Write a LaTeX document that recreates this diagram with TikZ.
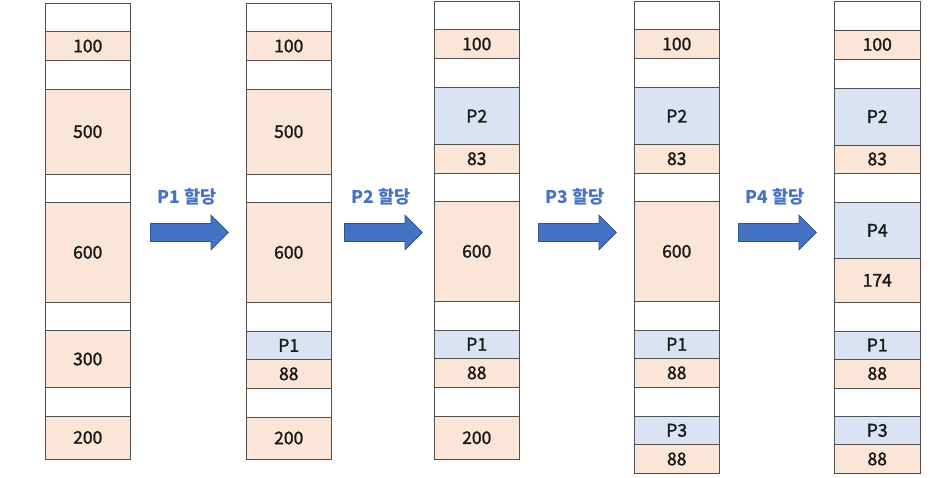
\documentclass[tikz,border=0pt]{standalone}
\usepackage{fontspec}
\setmainfont{Noto Sans CJK KR}
\newfontfamily\cellfont[FakeBold=1.6]{Noto Sans CJK KR}
\usetikzlibrary{shapes.arrows}
\definecolor{peach}{HTML}{FBE5D6}
\definecolor{lblue}{HTML}{DAE3F3}
\definecolor{abody}{HTML}{4472C4}
\definecolor{aedge}{HTML}{2F528F}
\definecolor{cedge}{HTML}{505050}
\tikzset{
  cellbase/.style={draw=cedge, line width=0.9pt, inner sep=0pt, outer sep=0pt, anchor=north west, minimum width=85.5pt, font=\cellfont\fontsize{17.5}{20}\selectfont, text=black!90},
  freecell/.style={cellbase, fill=white},
  holecell/.style={cellbase, fill=peach},
  proccell/.style={cellbase, fill=lblue},
  blockarrow/.style={single arrow, draw=aedge, fill=abody, line width=0.8pt, inner xsep=0pt, inner ysep=8.5pt, single arrow head extend=8.5pt, single arrow head indent=0pt, minimum height=78pt, single arrow tip angle=90, anchor=tail},
  steplabel/.style={text=abody, font=\fontsize{17.5}{20}\bfseries\selectfont}
}
\newcommand\mcell[6]{\node[#5, minimum height={(#4-#3)*1pt}] (#1) at (#2,#3) {#6};}
\begin{document}
\begin{tikzpicture}[x=1pt,y=-1pt]
\useasboundingbox (0,0) rectangle (950,477);
% column 1
\mcell{a1}{45}{3}{31.7}{freecell}{}
\mcell{a2}{45}{31.7}{60.3}{holecell}{100}
\mcell{a3}{45}{60.3}{89.3}{freecell}{}
\mcell{a4}{45}{89.3}{174}{holecell}{500}
\mcell{a5}{45}{174}{202.7}{freecell}{}
\mcell{a6}{45}{202.7}{302}{holecell}{600}
\mcell{a7}{45}{302}{330.7}{freecell}{}
\mcell{a8}{45}{330.7}{387.3}{holecell}{300}
\mcell{a9}{45}{387.3}{416}{freecell}{}
\mcell{a10}{45}{416}{459}{holecell}{200}
% column 2
\mcell{b1}{246}{3}{31.7}{freecell}{}
\mcell{b2}{246}{31.7}{60.3}{holecell}{100}
\mcell{b3}{246}{60.3}{89.3}{freecell}{}
\mcell{b4}{246}{89.3}{174}{holecell}{500}
\mcell{b5}{246}{174}{202.7}{freecell}{}
\mcell{b6}{246}{202.7}{302}{holecell}{600}
\mcell{b7}{246}{302}{331}{freecell}{}
\mcell{b8}{246}{331}{359.7}{proccell}{P1}
\mcell{b9}{246}{359.7}{388}{holecell}{88}
\mcell{b10}{246}{388}{417}{freecell}{}
\mcell{b11}{246}{417}{459}{holecell}{200}
% column 3
\mcell{c1}{434}{1.5}{29.5}{freecell}{}
\mcell{c2}{434}{29.5}{58.5}{holecell}{100}
\mcell{c3}{434}{58.5}{87.5}{freecell}{}
\mcell{c4}{434}{87.5}{144.5}{proccell}{P2}
\mcell{c5}{434}{144.5}{173}{holecell}{83}
\mcell{c6}{434}{173}{201.7}{freecell}{}
\mcell{c7}{434}{201.7}{301}{holecell}{600}
\mcell{c8}{434}{301}{330}{freecell}{}
\mcell{c9}{434}{330}{358.5}{proccell}{P1}
\mcell{c10}{434}{358.5}{387.3}{holecell}{88}
\mcell{c11}{434}{387.3}{416.5}{freecell}{}
\mcell{c12}{434}{416.5}{459}{holecell}{200}
% column 4
\mcell{d1}{634}{1.5}{29.5}{freecell}{}
\mcell{d2}{634}{29.5}{58.5}{holecell}{100}
\mcell{d3}{634}{58.5}{87.5}{freecell}{}
\mcell{d4}{634}{87.5}{144.5}{proccell}{P2}
\mcell{d5}{634}{144.5}{173}{holecell}{83}
\mcell{d6}{634}{173}{201.7}{freecell}{}
\mcell{d7}{634}{201.7}{301}{holecell}{600}
\mcell{d8}{634}{301}{330}{freecell}{}
\mcell{d9}{634}{330}{358.5}{proccell}{P1}
\mcell{d10}{634}{358.5}{387.3}{holecell}{88}
\mcell{d11}{634}{387.3}{416}{freecell}{}
\mcell{d12}{634}{416}{444.7}{proccell}{P3}
\mcell{d13}{634}{444.7}{473.3}{holecell}{88}
% column 5
\mcell{e1}{834.5}{1.5}{30}{freecell}{}
\mcell{e2}{834.5}{30}{59}{holecell}{100}
\mcell{e3}{834.5}{59}{88}{freecell}{}
\mcell{e4}{834.5}{88}{145}{proccell}{P2}
\mcell{e5}{834.5}{145}{173}{holecell}{83}
\mcell{e6}{834.5}{173}{202}{freecell}{}
\mcell{e7}{834.5}{202}{258.7}{proccell}{P4}
\mcell{e8}{834.5}{258.7}{302}{holecell}{174}
\mcell{e9}{834.5}{302}{331}{freecell}{}
\mcell{e10}{834.5}{331}{359}{proccell}{P1}
\mcell{e11}{834.5}{359}{388}{holecell}{88}
\mcell{e12}{834.5}{388}{416}{freecell}{}
\mcell{e13}{834.5}{416}{444.7}{proccell}{P3}
\mcell{e14}{834.5}{444.7}{473.3}{holecell}{88}
% arrows and labels
\node[blockarrow] (r1) at (150,232.5) {};
\node[blockarrow] (r2) at (344,232.5) {};
\node[blockarrow] (r3) at (538,232.5) {};
\node[blockarrow] (r4) at (738,232.5) {};
\node[steplabel] (l1) at (187,197) {P1 할당};
\node[steplabel] (l2) at (381,197) {P2 할당};
\node[steplabel] (l3) at (575,197) {P3 할당};
\node[steplabel] (l4) at (775,197) {P4 할당};
\end{tikzpicture}
\end{document}
